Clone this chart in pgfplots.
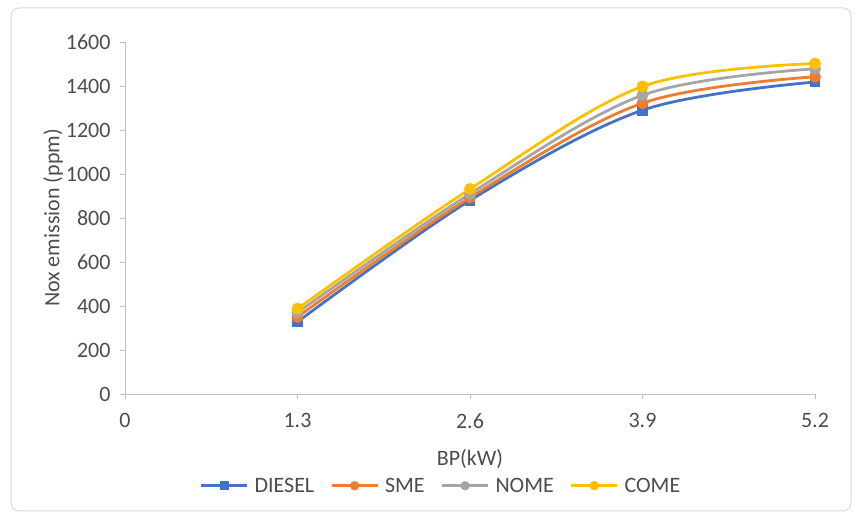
\documentclass[border=0pt]{standalone}
\usepackage{fontspec}
\setmainfont{Carlito}
\usepackage{pgfplots}
\pgfplotsset{compat=1.18}

\definecolor{cdiesel}{HTML}{4472C4}
\definecolor{csme}{HTML}{ED7D31}
\definecolor{cnome}{HTML}{A5A5A5}
\definecolor{ccome}{HTML}{FFC000}
\definecolor{axisgray}{HTML}{BFBFBF}
\definecolor{textgray}{HTML}{4D4D4D}

\begin{document}
\begin{tikzpicture}[x=1pt,y=1pt]
\useasboundingbox (0,0) rectangle (859,518);
\draw[color=black!15, line width=1pt, rounded corners=8pt] (11,7) rectangle (851,510);
\begin{axis}[
  at={(125pt,124pt)}, anchor=south west,
  scale only axis, width=690pt, height=352pt,
  xmin=0, xmax=5.2, ymin=0, ymax=1600,
  xtick={0,1.3,2.6,3.9,5.2},
  xticklabels={0,1.3,2.6,3.9,5.2},
  ytick={0,200,...,1600},
  yticklabel style={/pgf/number format/1000 sep={}},
  axis x line=bottom, axis y line=left,
  axis line style={axisgray, line width=0.8pt, -},
  tick style={axisgray, line width=0.8pt},
  tick align=outside, major tick length=5pt,
  x tick label style={yshift=-11pt},
  y tick label style={xshift=-6pt},
  ticklabel style={font=\fontsize{22}{24}\selectfont, text=textgray},
  /pgf/number format/assume math mode=true,
  xlabel={BP(kW)}, ylabel={Nox emission (ppm)},
  label style={font=\fontsize{22}{24}\selectfont, text=textgray},
  xlabel style={yshift=-14pt},
  ylabel style={yshift=-4pt},
  legend style={at={(0.458,-0.232)}, anchor=north, draw=none, fill=none,
    legend columns=4, font=\fontsize{22}{24}\selectfont, text=textgray,
    inner xsep=0pt, inner ysep=0pt,
    /tikz/every odd column/.append style={column sep=4pt},
    /tikz/every even column/.append style={column sep=14pt}},
  legend image code/.code={
    \draw[#1, mark=none] (0pt,0pt) -- (46pt,0pt);
    \draw[#1, only marks, mark size=3.2pt] plot coordinates {(23pt,0pt)};
  },
  every axis plot/.append style={line width=2.8pt, smooth, tension=0.55},
  clip=false,
]
\addplot[cdiesel, mark=square*, mark size=4pt, mark options={fill=cdiesel}] coordinates {
  (1.3,328) (2.6,880) (3.9,1290) (5.2,1418)};
\addlegendentry{DIESEL}
\addplot[csme, mark=*, mark size=4.5pt, mark options={fill=csme}] coordinates {
  (1.3,350) (2.6,893) (3.9,1322) (5.2,1442)};
\addlegendentry{SME}
\addplot[cnome, mark=*, mark size=4.5pt, mark options={fill=cnome}] coordinates {
  (1.3,370) (2.6,910) (3.9,1358) (5.2,1478)};
\addlegendentry{NOME}
\addplot[ccome, mark=*, mark size=4.5pt, mark options={fill=ccome}] coordinates {
  (1.3,388) (2.6,932) (3.9,1398) (5.2,1502)};
\addlegendentry{COME}
\end{axis}
\end{tikzpicture}
\end{document}
